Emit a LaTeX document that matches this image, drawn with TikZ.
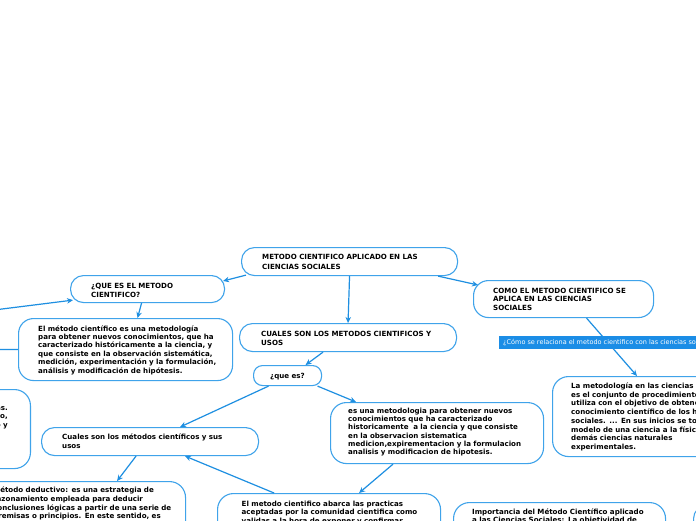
\documentclass[tikz,border=0pt]{standalone}
\usepackage{fontspec}
\setmainfont{DejaVu Sans}
\usetikzlibrary{arrows.meta,calc}
\definecolor{boxblue}{HTML}{3FA3EA}
\definecolor{lineblue}{HTML}{1E8FE1}
\definecolor{tagblue}{HTML}{1B8DE6}
\begin{document}
\begin{tikzpicture}[x=1pt,y=-1pt,
 box/.style={draw=boxblue, line width=1.1pt, rounded corners=13pt, fill=white, anchor=north west, inner sep=0pt},
 txt/.style={inner sep=0pt, text width=260pt, align=left, anchor=base west, font=\fontsize{7.1}{#1}\selectfont\bfseries},
 txt/.default=8.8,
 rtxt/.style={inner sep=0pt, text width=200pt, align=right, anchor=base east, font=\fontsize{7.1}{8.7}\selectfont\bfseries},
 conn/.style={draw=lineblue, line width=1.2pt, -{Stealth[length=6pt,width=5.5pt]}},
 plainline/.style={draw=lineblue, line width=1.2pt},
 tag/.style={fill=tagblue, text=white, inner xsep=4pt, inner ysep=0pt, minimum height=12.5pt, anchor=west, font=\fontsize{6.5}{8}\selectfont}]
\useasboundingbox (0,0) rectangle (696,520);
\clip (0,0) rectangle (696,520);
\fill[white] (0,0) rectangle (696,520);

% boxes
\node[box, minimum width=216pt, minimum height=28pt] (main) at (241,247) {};
\node[box, minimum width=154pt, minimum height=27pt] (q) at (70,275) {};
\node[box, minimum width=214pt, minimum height=62pt, rounded corners=15pt] (m) at (18,318) {};
\node[box, minimum width=217pt, minimum height=28pt] (cu) at (239,323) {};
\node[box, minimum width=68pt, minimum height=20pt, rounded corners=9pt] (qe) at (253,365) {};
\node[box, minimum width=180pt, minimum height=37pt, rounded corners=15pt] (como) at (473,280) {};
\node[box, minimum width=210pt, minimum height=80pt, rounded corners=16pt] (lm) at (552,376) {};
\node[box, minimum width=200pt, minimum height=79pt, rounded corners=16pt, anchor=north east] (l9) at (31,389) {};
\node[box, minimum width=217pt, minimum height=28pt] (cm) at (41,427) {};
\node[box, minimum width=213pt, minimum height=61pt, rounded corners=16pt] (eu) at (330,402) {};
\node[box, minimum width=211pt, minimum height=80pt, rounded corners=16pt] (md) at (-26,481) {};
\node[box, minimum width=223pt, minimum height=70pt, rounded corners=16pt] (ab) at (217,493) {};
\node[box, minimum width=212pt, minimum height=60pt, rounded corners=16pt] (imp) at (453,502) {};
\node[box, minimum width=200pt, minimum height=60pt] (rp) at (693,505) {};

% texts
\node[txt=10] (mainT) at (262,259) {METODO CIENTIFICO APLICADO EN LAS\\CIENCIAS SOCIALES};
\node[txt=9] (qT) at (91,288.5) {¿QUE ES EL METODO\\CIENTIFICO?};
\node[txt=8.4] (mT) at (38,331) {El método científico es una metodología\\para obtener nuevos conocimientos, que ha\\caracterizado históricamente a la ciencia, y\\que consiste en la observación sistemática,\\medición, experimentación y la formulación,\\análisis y modificación de hipótesis.};
\node[txt=9] (cuT) at (261,336) {CUALES SON LOS METODOS CIENTIFICOS Y\\USOS};
\node[txt] (qeT) at (270,378) {¿que es?};
\node[txt] (comoT) at (493,293) {COMO EL METODO CIENTIFICO SE\\APLICA EN LAS CIENCIAS\\SOCIALES};
\node[txt=8.7] (lmT) at (571,388.5) {La metodología en las ciencias sociales\\es el conjunto de procedimientos que se\\utiliza con el objetivo de obtener\\conocimiento científico de los hechos\\sociales. ... En sus inicios se tomó como\\modelo de una ciencia a la física y las\\demás ciencias naturales\\experimentales.};
\node[rtxt] (l9T) at (8,410) {a partir de premisas particulares concretas.\\En este sentido,\hspace*{5pt}\\se contrapone al método deductivo y};
\node[txt=9] (cmT) at (62,439.5) {Cuales son los métodos científicos y sus\\usos};
\node[txt=8.2] (euT) at (348,413.5) {es una metodologia para obtener nuevos\\conocimientos que ha caracterizado\\historicamente\ \ a la ciencia y que consiste\\en la observacion sistematica\\medicion,expirementacion y la formulacion\\analisis y modificacion de hipotesis.};
\node[txt] (mdT) at (-7,492.5) {Método deductivo: es una estrategia de\\razonamiento empleada para deducir\\conclusiones lógicas a partir de una serie de\\premisas o principios. En este sentido, es};
\node[txt] (abT) at (241.5,506) {El metodo cientifico abarca las practicas\\aceptadas por la comunidad cientifica como\\validas a la hora de exponer y confirmar};
\node[txt] (impT) at (472,514) {Importancia del Método Científico aplicado\\a las Ciencias Sociales: La objetividad de};

% connectors
\coordinate (lq) at (-10,310.5);
\coordinate (lm0) at (-10,349.5);
\draw[conn] ($(main.south west)+(5,-1)$) -- ($(q.north east)+(-2,6)$);
\draw[conn] (main.south) -- (cu.north);
\draw[conn] ($(main.south east)+(-20,0)$) -- ($(como.north west)+(5,5)$);
\draw[conn] ($(q.south)+(-6,0)$) -- ($(m.north)+(12,0)$);
\draw[conn] (lq) -- ($(q.south west)+(3,-3)$);
\draw[plainline] (lm0) -- (m.west);
\draw[conn] ($(cu.south)+(-25,0)$) -- ($(qe.north)+(18,0)$);
\draw[conn] ($(qe.south)+(-19,0)$) -- ($(cm.north)+(30,0)$);
\draw[conn] ($(qe.south)+(30,0)$) -- ($(eu.north west)+(26,0)$);
\draw[conn] ($(como.south)+(23,0)$) -- ($(lm.north west)+(85,0)$);
\draw[conn] ($(eu.south)+(-44,0)$) -- ($(ab.north)+(30,0)$);
\draw[conn] ($(ab.north)+(-55,0)$) -- ($(cm.south)+(35,0)$);
\draw[conn] ($(cm.south)+(-14,0)$) -- ($(md.north)+(37,0)$);

% tag label
\node[tag] (tg) at (499,342.5) {¿Cómo se relaciona el metodo cientifico con las ciencias sociales?};
\end{tikzpicture}
\end{document}
